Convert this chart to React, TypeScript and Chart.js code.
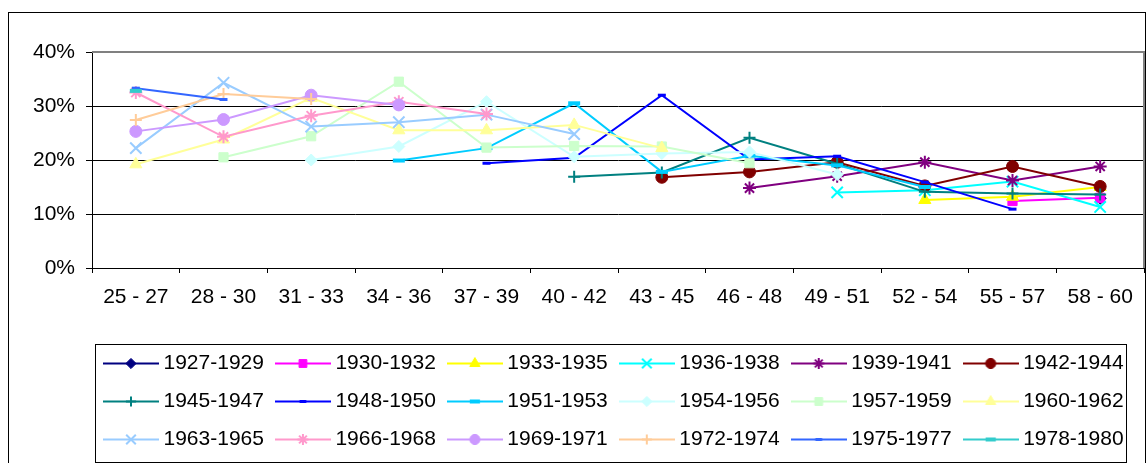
import React, { useEffect, useRef } from 'react';
import { Chart, registerables } from 'chart.js';
import { drawPoint } from 'chart.js/helpers';

Chart.register(...registerables);

const FONT = '"Liberation Sans", Arial, Helvetica, sans-serif';
const N = null;

const ageGroups = ['25 - 27', '28 - 30', '31 - 33', '34 - 36', '37 - 39', '40 - 42', '43 - 45', '46 - 48', '49 - 51', '52 - 54', '55 - 57', '58 - 60'];

const cohortLabels = ['1927-1929', '1930-1932', '1933-1935', '1936-1938', '1939-1941', '1942-1944', '1945-1947', '1948-1950', '1951-1953', '1954-1956', '1957-1959', '1960-1962', '1963-1965', '1966-1968', '1969-1971', '1972-1974', '1975-1977', '1978-1980'];

const c1927 = [N, N, N, N, N, N, N, N, N, N, N, 12.9];
const c1930 = [N, N, N, N, N, N, N, N, N, N, 12.4, 13.0];
const c1933 = [N, N, N, N, N, N, N, N, N, 12.6, 13.2, 15.0];
const c1936 = [N, N, N, N, N, N, N, N, 14.0, 14.4, 16.0, 11.3];
const c1939 = [N, N, N, N, N, N, N, 14.8, 17.0, 19.6, 16.2, 18.8];
const c1942 = [N, N, N, N, N, N, 16.8, 17.8, 19.6, 15.2, 18.8, 15.1];
const c1945 = [N, N, N, N, N, 16.9, 17.7, 24.1, 19.3, 14.1, 13.8, 13.6];
const c1948 = [N, N, N, N, 19.4, 20.4, 32.0, 20.1, 20.7, 15.9, 10.9, N];
const c1951 = [N, N, N, 19.9, 22.2, 30.5, 17.8, 20.8, 19.0, 15.0, N, N];
const c1954 = [N, N, 20.0, 22.5, 30.8, 20.6, 21.2, 21.5, 17.3, N, N, N];
const c1957 = [N, 20.5, 24.4, 34.5, 22.3, 22.6, 22.5, 19.4, N, N, N, N];
const c1960 = [19.2, 23.8, 31.5, 25.5, 25.5, 26.5, 22.2, N, N, N, N, N];
const c1963 = [22.2, 34.3, 26.2, 27.0, 28.4, 24.8, N, N, N, N, N, N];
const c1966 = [32.5, 24.3, 28.2, 30.8, 28.5, N, N, N, N, N, N, N];
const c1969 = [25.3, 27.5, 32.0, 30.2, N, N, N, N, N, N, N, N];
const c1972 = [27.4, 32.2, 31.3, N, N, N, N, N, N, N, N, N];
const c1975 = [33.3, 31.2, N, N, N, N, N, N, N, N, N, N];
const c1978 = [32.8, N, N, N, N, N, N, N, N, N, N, N];

const seriesValues = [c1927, c1930, c1933, c1936, c1939, c1942, c1945, c1948, c1951, c1954, c1957, c1960, c1963, c1966, c1969, c1972, c1975, c1978];

const seriesColors = ['#000080', '#FF00FF', '#FFFF00', '#00FFFF', '#800080', '#800000', '#008080', '#0000FF', '#00CCFF', '#CCFFFF', '#CCFFCC', '#FFFF99', '#99CCFF', '#FF99CC', '#CC99FF', '#FFCC99', '#3366FF', '#33CCCC'];

const markerKinds = ['rectRot', 'rect', 'triangle', 'crossRot', 'star', 'circle', 'cross', 'line', 'line', 'rectRot', 'rect', 'triangle', 'crossRot', 'star', 'circle', 'cross', 'line', 'line'];
const markerRadii = [6, 6.5, 7, 8, 6.5, 6, 6, 4, 6, 6, 6.5, 7, 8, 6.5, 6, 6, 4, 6];
const markerStrokes = [1, 1, 1, 2, 2, 1, 2, 3, 4, 1, 1, 1, 2, 2, 1, 2, 3, 4];

const ICON_W = 56;
const ICON_H = 21;

function makeIcon(i: number) {
  const c = document.createElement('canvas');
  c.width = ICON_W;
  c.height = ICON_H;
  const g = c.getContext('2d')!;
  g.strokeStyle = seriesColors[i];
  g.fillStyle = seriesColors[i];
  g.lineWidth = 2;
  g.beginPath();
  g.moveTo(0, ICON_H / 2);
  g.lineTo(ICON_W, ICON_H / 2);
  g.stroke();
  g.lineWidth = markerStrokes[i];
  drawPoint(g as any, { pointStyle: markerKinds[i], radius: markerRadii[i] * 0.85, rotation: 0, borderWidth: markerStrokes[i] } as any, ICON_W / 2, ICON_H / 2);
  return c;
}

const framePlugin = {
  id: 'frame',
  beforeDatasetsDraw(chart: any) {
    const { ctx, chartArea: a } = chart;
    ctx.save();
    ctx.strokeStyle = '#808080';
    ctx.lineWidth = 2;
    ctx.beginPath();
    ctx.moveTo(a.left, a.top);
    ctx.lineTo(a.right, a.top);
    ctx.lineTo(a.right, a.bottom);
    ctx.stroke();
    ctx.restore();
  },
  afterDraw(chart: any) {
    const { ctx, chartArea: a, legend } = chart;
    ctx.save();
    ctx.strokeStyle = '#000';
    ctx.lineWidth = 1;
    const x0 = Math.round(a.left + 3) + 0.5;
    const x1 = Math.round(a.right - 18) + 0.5;
    const y0 = Math.round(legend.top + 8) + 0.5;
    const y1 = Math.round(legend.bottom + 2) + 0.5;
    ctx.strokeRect(x0, y0, x1 - x0, y1 - y0);
    ctx.restore();
  },
};

export default function App() {
  const ref = useRef<HTMLCanvasElement>(null);

  useEffect(() => {
    const canvas = ref.current!;
    const icons = cohortLabels.map((_, i) => makeIcon(i));
    const datasets = cohortLabels.map((label, i) => ({
      label,
      data: seriesValues[i],
      borderColor: seriesColors[i],
      backgroundColor: seriesColors[i],
      pointBackgroundColor: seriesColors[i],
      pointBorderColor: seriesColors[i],
      pointStyle: markerKinds[i],
      pointRadius: markerRadii[i],
      pointBorderWidth: markerStrokes[i],
      borderWidth: 2,
      tension: 0,
      fill: false,
      spanGaps: false,
      order: cohortLabels.length - i,
    }));

    const chart = new Chart(canvas, {
      type: 'line',
      data: { labels: ageGroups, datasets },
      options: {
        responsive: false,
        maintainAspectRatio: false,
        devicePixelRatio: 1,
        animation: false,
        events: [],
        layout: { autoPadding: false, padding: { left: 0, right: 1, top: 39, bottom: 8 } },
        scales: {
          x: {
            type: 'category',
            offset: true,
            grid: { offset: true, drawOnChartArea: false, drawTicks: true, tickLength: 5, color: '#000', tickColor: '#000' },
            border: { display: true, color: '#000', width: 1 },
            ticks: { color: '#000', font: { family: FONT, size: 21, lineHeight: 2.1 }, padding: 2, autoSkip: false, maxRotation: 0, minRotation: 0 },
            afterFit: (s: any) => { s.height = 68; s.paddingLeft = 0; s.paddingRight = 0; },
          },
          y: {
            min: 0,
            max: 40,
            ticks: { stepSize: 10, callback: (v: any) => `${v}%`, color: '#000', font: { family: FONT, size: 21 }, padding: 11 },
            grid: {
              color: (c: any) => (c.tick && c.tick.value === 40 ? '#808080' : '#000'),
              tickColor: '#000',
              tickLength: 6,
              lineWidth: 1,
            },
            border: { display: true, color: '#000', width: 1 },
            afterFit: (s: any) => { s.width = 83; },
          },
        },
        plugins: {
          tooltip: { enabled: false },
          legend: {
            display: true,
            position: 'bottom',
            fullSize: false,
            align: 'start',
            labels: {
              usePointStyle: true,
              pointStyleWidth: 44,
              padding: 17,
              color: '#000',
              font: { family: FONT, size: 21 },
              generateLabels: (ch: any) => {
                const items = (Chart.defaults.plugins.legend.labels as any).generateLabels(ch);
                return items.map((it: any) => ({ ...it, pointStyle: icons[it.datasetIndex] }));
              },
              sort: (a: any, b: any) => a.datasetIndex - b.datasetIndex,
            },
          },
        },
      } as any,
      plugins: [framePlugin],
    });
    return () => chart.destroy();
  }, []);

  return (
    <div
      style={{
        position: 'fixed',
        left: 8,
        top: 12,
        width: 1138,
        height: 457,
        border: '1px solid #000',
        boxSizing: 'border-box',
        background: '#fff',
      }}
    >
      <canvas ref={ref} width={1136} height={455} style={{ display: 'block', width: 1136, height: 455 }} />
    </div>
  );
}
